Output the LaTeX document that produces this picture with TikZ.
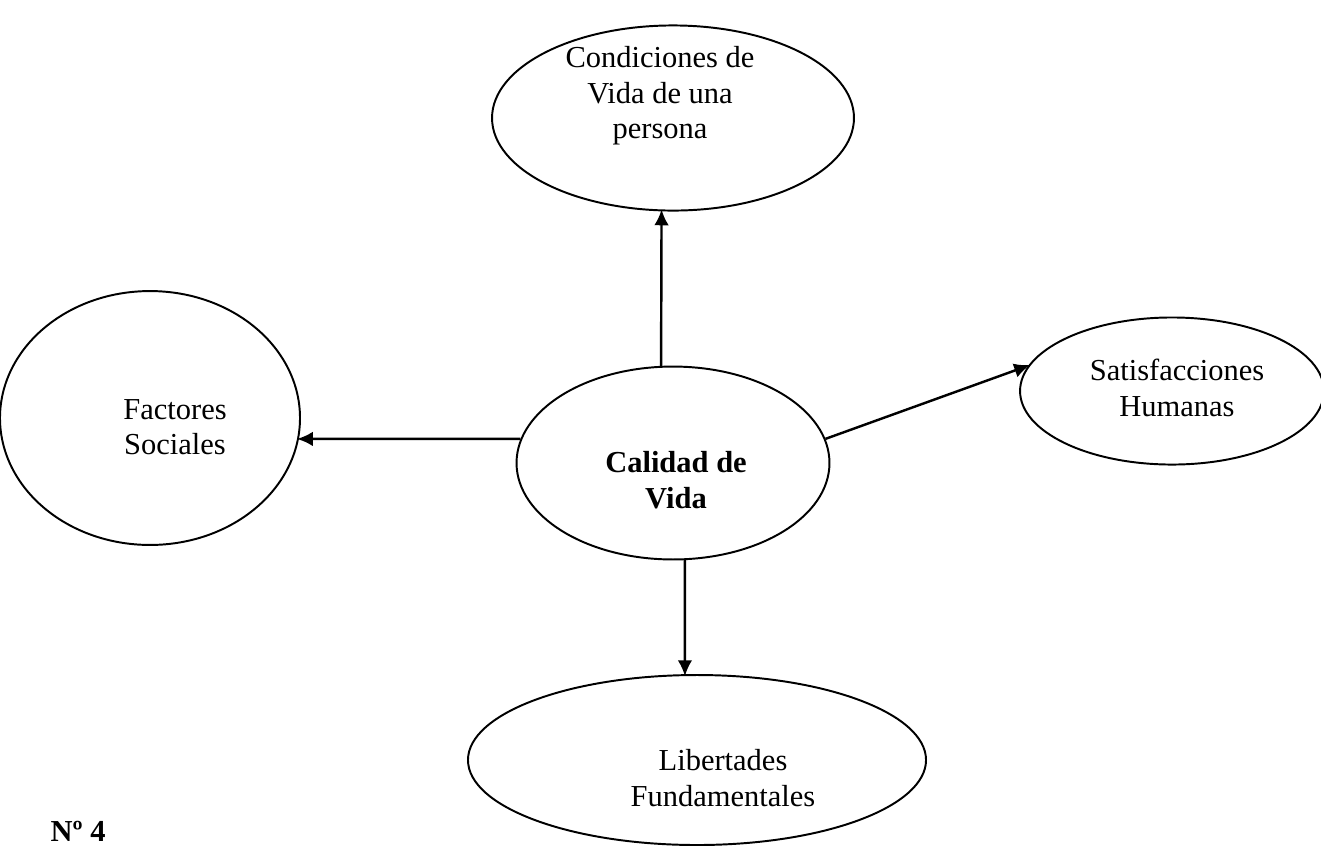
\documentclass[tikz,border=0pt]{standalone}
\usepackage{fontspec}
\setmainfont{Liberation Serif}
\usetikzlibrary{shapes.geometric,arrows.meta}

\begin{document}
\begin{tikzpicture}[x=0.41pt,y=-0.41pt,
    oval/.style={draw,ellipse,line width=0.8pt,inner sep=0pt},
    txt/.style={align=center,font=\fontsize{12.5}{14.5}\selectfont},
    arr/.style={line width=1pt,shorten >=-0.8pt,-{Latex[length=6.5pt,width=6pt]}}]
        \useasboundingbox (0,0) rectangle (1321,846);

        \node[oval,minimum width=148.4pt,minimum height=75.9pt] (cond) at (673,118) {};
        \node[oval,minimum width=123pt,minimum height=104.1pt] (fact) at (150,418) {};
        \node[oval,minimum width=128.3pt,minimum height=79.1pt] (cal) at (673,463) {};
        \node[oval,minimum width=124.6pt,minimum height=60.3pt] (sat) at (1172,391) {};
        \node[oval,minimum width=187.8pt,minimum height=69.7pt] (lib) at (697,760) {};

        \node[txt] (cond-t) at (660,96) {Condiciones de\\Vida de una\\persona};
        \node[txt] (fact-t) at (175,427) {Factores\\Sociales};
        \node[txt,font=\fontsize{12.5}{14.5}\selectfont\bfseries] (cal-t) at (676,480) {Calidad de\\Vida};
        \node[txt] (sat-t) at (1177,388) {Satisfacciones\\Humanas};
        \node[txt] (lib-t) at (723,778) {Libertades\\Fundamentales};

        \draw[arr] (cal.97) -- (cond.263);
        \draw[arr] (cal.171) -- (fact.352);
        \draw[arr] (cal.9) -- (sat.170);
        \draw[arr] (cal.277) -- (lib.98);

        \node[anchor=base west,font=\fontsize{12.5}{14.5}\selectfont\bfseries] (num) at (42,841) {Nº 4};
      \end{tikzpicture}
\end{document}
